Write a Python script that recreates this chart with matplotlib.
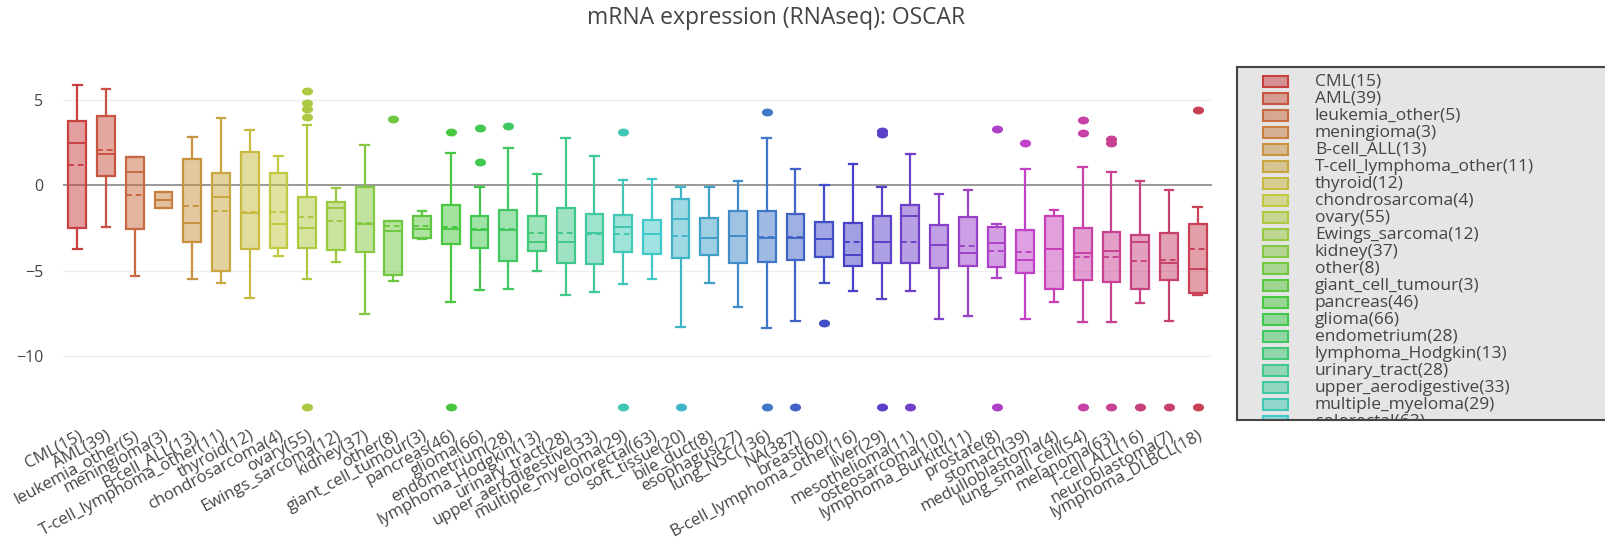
import colorsys
import matplotlib
matplotlib.use("Agg")
import matplotlib.pyplot as plt
from matplotlib.patches import Rectangle
from matplotlib.path import Path
import numpy as np

plt.rcParams['font.family'] = ['Open Sans', 'DejaVu Sans']

# categories and sample counts
names = ["CML", "AML", "leukemia_other", "meningioma", "B-cell_ALL",
         "T-cell_lymphoma_other", "thyroid", "chondrosarcoma", "ovary",
         "Ewings_sarcoma", "kidney", "other", "giant_cell_tumour", "pancreas",
         "glioma", "endometrium", "lymphoma_Hodgkin", "urinary_tract",
         "upper_aerodigestive", "multiple_myeloma", "colorectal", "soft_tissue",
         "bile_duct", "esophagus", "lung_NSC", "NA", "breast",
         "B-cell_lymphoma_other", "liver", "mesothelioma", "osteosarcoma",
         "lymphoma_Burkitt", "prostate", "stomach", "medulloblastoma",
         "lung_small_cell", "melanoma", "T-cell_ALL", "neuroblastoma",
         "lymphoma_DLBCL"]
counts = [15, 39, 5, 3, 13, 11, 12, 4, 55, 12, 37, 8, 3, 46, 66, 28, 13, 28,
          33, 29, 63, 20, 8, 27, 136, 387, 60, 16, 29, 11, 10, 11, 8, 39, 4,
          54, 63, 16, 7, 18]

# box statistics
whislo = [-3.71, -2.42, -5.31, -1.35, -5.47, -5.74, -6.62, -4.12, -5.49, -4.47,
          -7.56, -5.59, -3.16, -6.84, -6.13, -6.07, -5.02, -6.43, -6.27, -5.76,
          -5.49, -8.28, -5.70, -7.11, -8.38, -7.95, -5.70, -6.19, -6.66, -6.19,
          -7.83, -7.66, -5.45, -7.83, -6.82, -8.03, -8.03, -6.88, -7.95, -6.43]
q1 = [-2.52, 0.55, -2.58, -1.35, -3.30, -5.00, -3.75, -3.65, -3.69, -3.79,
      -3.89, -5.25, -3.07, -3.44, -3.69, -4.41, -3.85, -4.57, -4.61, -3.89,
      -4.02, -4.28, -4.08, -4.57, -4.51, -4.38, -4.18, -4.71, -4.53, -4.53,
      -4.82, -4.73, -4.77, -5.16, -6.09, -5.55, -5.68, -6.09, -5.55, -6.33]
med = [2.46, 1.82, 0.76, -0.86, -2.19, -0.66, -1.60, -2.27, -2.52, -1.31,
       -2.29, -2.66, -2.58, -2.58, -2.62, -2.62, -3.30, -3.30, -2.81, -2.42,
       -2.85, -1.97, -3.11, -2.95, -3.11, -3.11, -3.14, -4.08, -3.34, -1.78,
       -3.50, -3.98, -3.40, -4.38, -3.75, -3.98, -3.85, -3.30, -4.57, -4.90]
mean = [1.19, 2.07, -0.57, -0.86, -1.19, -1.48, -1.54, -1.54, -1.88, -2.09,
        -2.20, -2.36, -2.36, -2.45, -2.58, -2.55, -2.81, -2.81, -2.85, -2.85,
        -2.85, -2.95, -3.08, -3.00, -3.05, -3.05, -3.14, -3.30, -3.30, -3.34,
        -3.50, -3.55, -3.85, -3.93, -3.75, -4.18, -4.22, -4.41, -4.38, -3.73]
q3 = [3.77, 4.06, 1.64, -0.37, 1.52, 0.74, 1.93, 0.70, -0.66, -0.96,
      -0.08, -2.07, -1.80, -1.15, -1.80, -1.46, -1.78, -1.35, -1.66, -1.76,
      -2.03, -0.80, -1.89, -1.50, -1.50, -1.66, -2.13, -2.19, -1.78, -1.15,
      -2.32, -1.88, -2.46, -2.62, -1.78, -2.48, -2.73, -2.91, -2.77, -2.29]
whishi = [5.88, 5.63, 1.64, -0.37, 2.85, 3.93, 3.24, 1.74, 3.54, -0.14,
          2.36, -2.07, -1.50, 1.91, -0.08, 2.17, 0.66, 2.75, 1.70, 0.31,
          0.37, -0.12, -0.12, 0.27, 2.75, 0.96, 0.02, 1.25, -0.12, 1.84,
          -0.53, -0.27, -2.29, 0.96, -1.45, 1.09, 0.80, 0.27, -0.27, -1.25]
outliers = [[], [], [], [], [], [], [], [], [5.55, 4.84, 4.45, 3.98, -12.97], [],
            [], [3.87], [], [3.14, -12.97], [3.34, 1.35], [3.48], [], [], [],
            [3.09, -12.97],
            [], [-12.97], [], [], [4.32, -12.97], [-12.97], [-8.09], [],
            [3.02, 3.15, -12.97], [-12.97],
            [], [], [3.28, -12.97], [2.48], [], [3.83, 3.05, -12.97],
            [2.70, 2.46, -12.97], [-12.97], [-12.97], [4.38, -12.97]]

labels = [f"{n}({c})" for n, c in zip(names, counts)]
colors = [colorsys.hls_to_rgb(i / len(names), 0.52, 0.55) for i in range(len(names))]

# wide ellipse marker for outliers
t = np.linspace(0, 2 * np.pi, 40)
ellipse = Path(np.column_stack([1.5 * np.cos(t), np.sin(t)]))

fig = plt.figure(figsize=(16.06, 5.39), dpi=100)
ax = fig.add_axes([63 / 1606, 1 - 422 / 539, (1212 - 63) / 1606, (422 - 69) / 539])

for i in range(len(names)):
    c = colors[i]
    st = dict(med=med[i], q1=q1[i], q3=q3[i], whislo=whislo[i], whishi=whishi[i],
              mean=mean[i], fliers=outliers[i], label=labels[i])
    ax.bxp([st], positions=[i], widths=0.62, capwidths=0.3, patch_artist=True,
           showmeans=True, meanline=True, manage_ticks=False,
           boxprops=dict(facecolor=(*c, 0.5), edgecolor=c, linewidth=1.6),
           whiskerprops=dict(color=c, linewidth=1.6),
           capprops=dict(color=c, linewidth=1.6),
           medianprops=dict(color=c, linewidth=1.4),
           meanprops=dict(color=c, linewidth=1.4, linestyle=(0, (3, 2))),
           flierprops=dict(marker=ellipse, markersize=7, markerfacecolor=c,
                           markeredgecolor=c, linestyle='none'))

ax.set_xlim(-0.5, len(names) - 0.5)
ax.set_ylim(-13.87, 6.81)
ax.set_yticks([5, 0, -5, -10])
ax.set_yticklabels(["5", "0", "\u22125", "\u221210"])
ax.set_xticks(range(len(names)))
ax.set_xticklabels(labels, rotation=28, ha='right', rotation_mode='anchor',
                   fontsize=12, color='#444444')
ax.tick_params(axis='x', length=0, pad=4)
ax.tick_params(axis='y', length=0, pad=14, labelsize=11.5, labelcolor='#444444')
for s in ax.spines.values():
    s.set_visible(False)
for yv in [5, -5, -10]:
    ax.axhline(yv, color='#eeeeee', linewidth=1, zorder=0)
ax.axhline(0, color='#888888', linewidth=1.2, zorder=0.5)

fig.text(0.483, 1 - 18 / 539, "mRNA expression (RNAseq): OSCAR",
         fontsize=16.5, color='#444444', ha='center', va='center')

# legend box, cut off at the bottom like the original scroll box
lx0, ly0, ly1 = 1237, 67, 420
lw = 420
lax = fig.add_axes([lx0 / 1606, 1 - ly1 / 539, lw / 1606, (ly1 - ly0) / 539])
lax.set_xlim(0, lw)
lax.set_ylim(ly1 - ly0, 0)
lax.set_facecolor('#e5e5e5')
lax.set_xticks([])
lax.set_yticks([])
for s in lax.spines.values():
    s.set_color('#444444')
    s.set_linewidth(1.5)
for i, lab in enumerate(labels):
    yc = 14.7 + 17.0 * i
    if yc - 8 > ly1 - ly0:
        break
    lax.add_patch(Rectangle((26, yc - 5.5), 25, 11, facecolor=(*colors[i], 0.5),
                            edgecolor=colors[i], linewidth=1.5, clip_on=True))
    lax.text(78, yc, lab, fontsize=12.5, color='#444444', va='center',
             ha='left', clip_on=True)

fig.savefig("out.png", dpi=100)
